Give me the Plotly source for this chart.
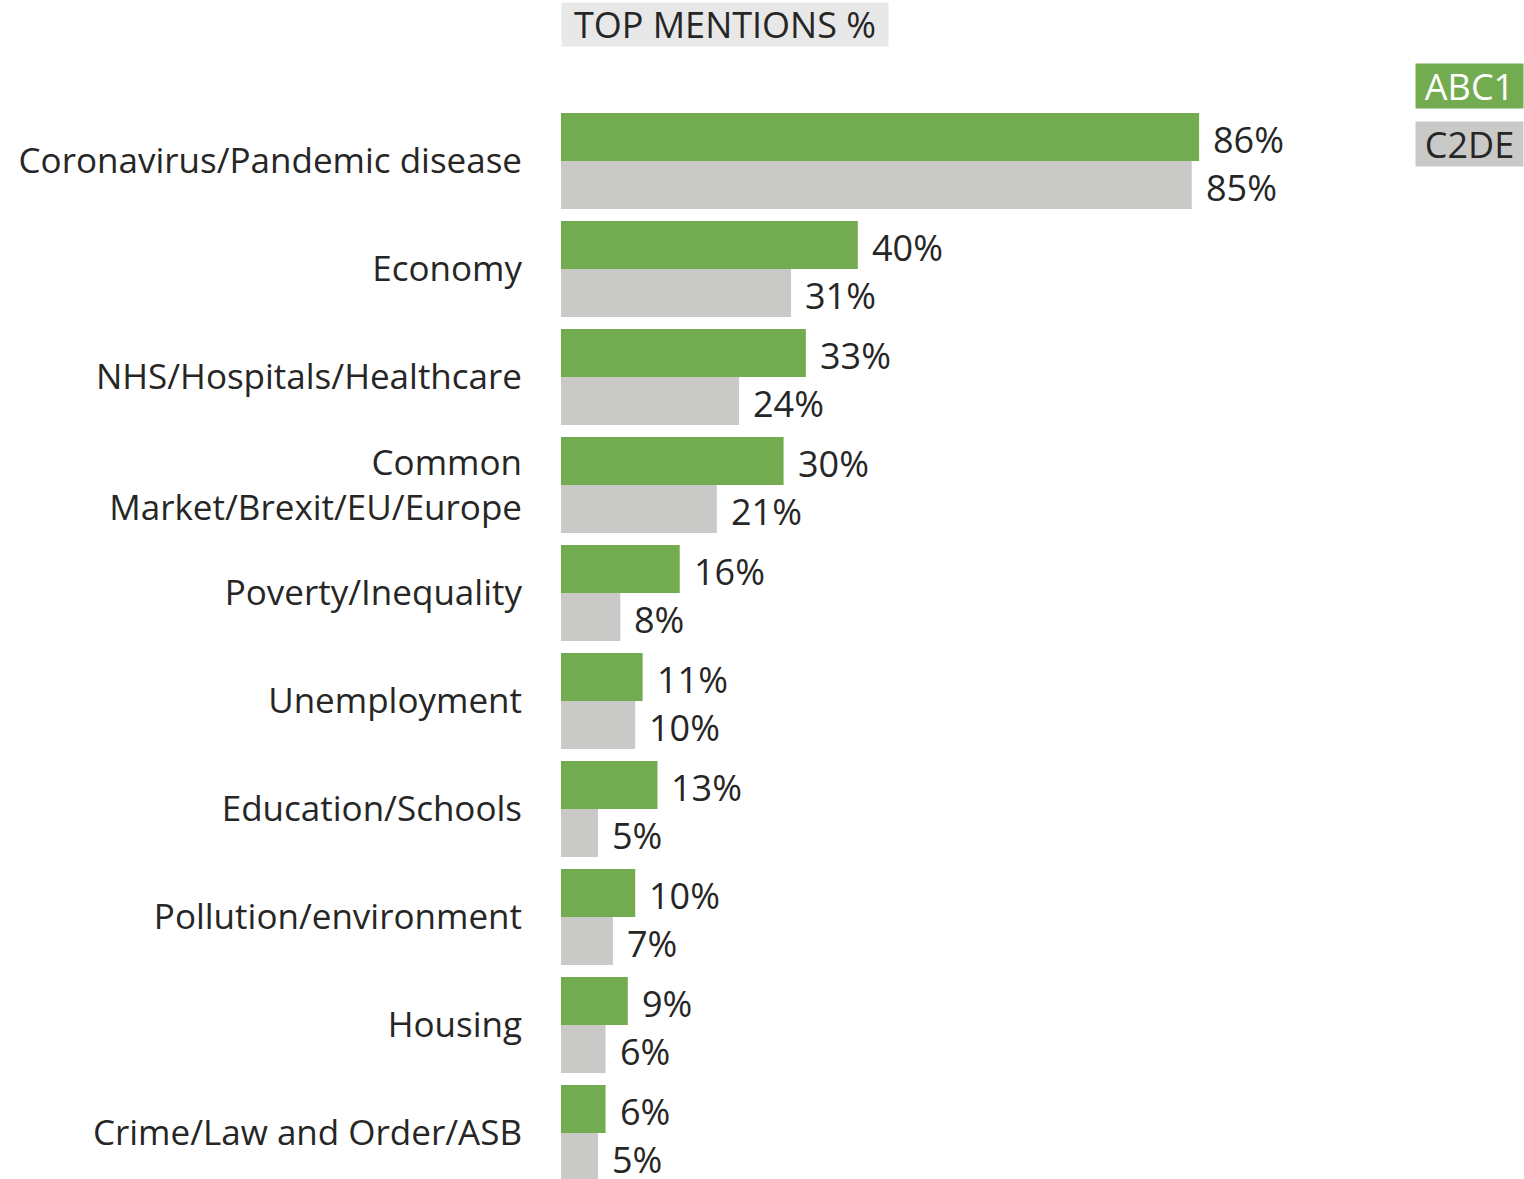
import plotly.graph_objects as go

categories = [
    "Coronavirus/Pandemic disease",
    "Economy",
    "NHS/Hospitals/Healthcare",
    "Common<br>Market/Brexit/EU/Europe",
    "Poverty/Inequality",
    "Unemployment",
    "Education/Schools",
    "Pollution/environment",
    "Housing",
    "Crime/Law and Order/ASB",
]
abc1 = [86, 40, 33, 30, 16, 11, 13, 10, 9, 6]
c2de = [85, 31, 24, 21, 8, 10, 5, 7, 6, 5]

GREEN = "#72AB50"
GRAY = "#C9C9C8"
TEXT = "#262626"
FONT = "Open Sans"

W, H = 1524, 1179
ML, MR, MT, MB = 561, 124, 107, 0
plot_w = W - ML - MR
plot_h = H - MT - MB
px_per_pct = 7.42
px_per_cat = 108.0

fig = go.Figure()
fig.add_trace(go.Bar(y=categories, x=abc1, orientation="h", name="ABC1",
                     marker=dict(color=GREEN, line=dict(width=0))))
fig.add_trace(go.Bar(y=categories, x=c2de, orientation="h", name="C2DE",
                     marker=dict(color=GRAY, line=dict(width=0))))

ann = []
for i, (a, c) in enumerate(zip(abc1, c2de)):
    ann.append(dict(x=a, y=categories[i], xref="x", yref="y", text=f"{a}%",
                    showarrow=False, xanchor="left", yanchor="middle",
                    xshift=13, yshift=22, height=38, borderpad=0,
                    font=dict(family=FONT, size=36, color=TEXT)))
    ann.append(dict(x=c, y=categories[i], xref="x", yref="y", text=f"{c}%",
                    showarrow=False, xanchor="left", yanchor="middle",
                    xshift=13, yshift=-26, height=38, borderpad=0,
                    font=dict(family=FONT, size=36, color=TEXT)))

# Title box
ann.append(dict(xref="paper", yref="paper",
                x=(725 - ML) / plot_w, y=1 + (MT - 24.5) / plot_h,
                xanchor="center", yanchor="middle",
                text="TOP MENTIONS %", showarrow=False,
                width=326, height=43, bgcolor="#E8E8E8", borderpad=0,
                font=dict(family=FONT, size=36, color=TEXT)))
# Legend boxes
ann.append(dict(xref="paper", yref="paper",
                x=(1469.5 - ML) / plot_w, y=1 + (MT - 86) / plot_h,
                xanchor="center", yanchor="middle",
                text="ABC1", showarrow=False,
                width=107, height=44, bgcolor=GREEN, borderpad=0,
                font=dict(family=FONT, size=36, color="white")))
ann.append(dict(xref="paper", yref="paper",
                x=(1469.5 - ML) / plot_w, y=1 + (MT - 144) / plot_h,
                xanchor="center", yanchor="middle",
                text="C2DE", showarrow=False,
                width=107, height=44, bgcolor=GRAY, borderpad=0,
                font=dict(family=FONT, size=36, color=TEXT)))

top_val = -0.5
bottom_val = top_val + plot_h / px_per_cat

fig.update_layout(
    width=W, height=H,
    margin=dict(l=ML, r=MR, t=MT, b=MB, pad=0),
    paper_bgcolor="white", plot_bgcolor="white",
    barmode="group", bargap=12 / 108, bargroupgap=0,
    showlegend=False,
    annotations=ann,
    xaxis=dict(range=[0, plot_w / px_per_pct], visible=False, fixedrange=True),
    yaxis=dict(range=[bottom_val, top_val], showgrid=False, zeroline=False,
               showline=False, ticks="outside", ticklen=31,
               tickcolor="rgba(0,0,0,0)", fixedrange=True,
               tickfont=dict(family=FONT, size=35, color=TEXT)),
)

fig.write_html("out.html", config={"displayModeBar": False},
               post_script="document.body.style.margin='0';document.body.style.overflow='hidden';")
